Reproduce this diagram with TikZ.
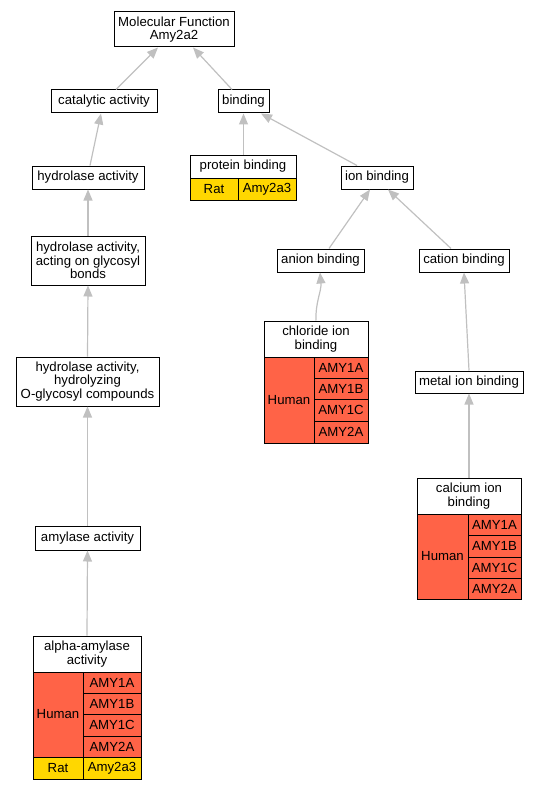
\documentclass[tikz,border=0pt]{standalone}
\usepackage{fontspec}
\setmainfont{Liberation Sans}
\usetikzlibrary{arrows.meta}
\definecolor{edgegray}{RGB}{192,192,192}
\definecolor{humanred}{RGB}{255,99,71}
\definecolor{ratgold}{RGB}{255,215,0}
\tikzset{
  gbox/.style={draw=black, line width=1pt, inner sep=0pt, align=center,
    font=\fontsize{13.2}{13.6}\selectfont},
  edge/.style={draw=edgegray, line width=1.2pt,
    -{Triangle[length=11pt,width=9pt,fill=edgegray,color=edgegray]}},
}
\newcommand\gnode[7][white]{%
  \pgfmathsetmacro\gcx{(#3+#5)/2}%
  \pgfmathsetmacro\gcy{(#4+#6)/2}%
  \pgfmathsetmacro\gww{#5-#3}%
  \pgfmathsetmacro\ghh{#6-#4}%
  \node[gbox, fill=#1, minimum width=\gww pt, minimum height=\ghh pt] (#2) at (\gcx,\gcy) {#7};%
}
\begin{document}
\begin{tikzpicture}[x=1pt,y=-1pt]
\useasboundingbox (0,0) rectangle (539,789);
% plain nodes
\gnode{mf}{114}{12}{234}{47}{Molecular Function\\Amy2a2}
\gnode{cat}{51}{90}{157}{113}{catalytic activity}
\gnode{bind}{218}{90}{269}{113}{binding}
\gnode{hyd}{32}{166}{144}{189}{hydrolase activity}
\gnode{ion}{341}{166}{413}{189}{ion binding}
\gnode{anion}{277}{249}{364}{272}{anion binding}
\gnode{cation}{419}{249}{509}{272}{cation binding}
\gnode{metal}{415}{371}{523}{393}{metal ion binding}
\gnode{acting}{31}{236}{145}{285}{hydrolase activity,\\acting on glycosyl\\bonds}
\gnode{hydro}{16}{357}{159}{406}{hydrolase activity,\\hydrolyzing\\O-glycosyl compounds}
\gnode{amyl}{35}{526}{140}{550}{amylase activity}
% protein binding table
\gnode{pb}{190}{155}{296}{178}{protein binding}
\gnode[ratgold]{pbrat}{190}{178}{238}{200}{Rat}
\gnode[ratgold]{pbamy}{238}{178}{296}{200}{Amy2a3}
% chloride ion binding table
\gnode{chl}{264}{321}{368}{357}{chloride ion\\binding}
\gnode[humanred]{chlhum}{264}{357}{314}{443}{Human}
\gnode[humanred]{chla}{314}{357}{368}{378}{AMY1A}
\gnode[humanred]{chlb}{314}{378}{368}{399}{AMY1B}
\gnode[humanred]{chlc}{314}{399}{368}{421}{AMY1C}
\gnode[humanred]{chld}{314}{421}{368}{443}{AMY2A}
% calcium ion binding table
\gnode{cal}{417}{478}{521}{514}{calcium ion\\binding}
\gnode[humanred]{calhum}{417}{514}{468}{599}{Human}
\gnode[humanred]{cala}{468}{514}{521}{535}{AMY1A}
\gnode[humanred]{calb}{468}{535}{521}{557}{AMY1B}
\gnode[humanred]{calc}{468}{557}{521}{578}{AMY1C}
\gnode[humanred]{cald}{468}{578}{521}{599}{AMY2A}
% alpha-amylase activity table
\gnode{alpha}{33}{636}{141}{672}{alpha-amylase\\activity}
\gnode[humanred]{alhum}{33}{672}{83}{757}{Human}
\gnode[humanred]{ala}{83}{672}{141}{693}{AMY1A}
\gnode[humanred]{alb}{83}{693}{141}{714}{AMY1B}
\gnode[humanred]{alc}{83}{714}{141}{736}{AMY1C}
\gnode[humanred]{ald}{83}{736}{141}{757}{AMY2A}
\gnode[ratgold]{alrat}{33}{757}{83}{779}{Rat}
\gnode[ratgold]{alamy}{83}{757}{141}{779}{Amy2a3}
% edges
\draw[edge] ([xshift=12pt]cat.north) -- ([xshift=-16pt]mf.south);
\draw[edge] ([xshift=-11.5pt]bind.north) -- ([xshift=19pt]mf.south);
\draw[edge] ([xshift=2pt]hyd.north) -- ([xshift=-3pt]cat.south);
\draw[edge] ([xshift=0.5pt]pb.north) -- (bind.south);
\draw[edge] ([xshift=-20pt]ion.north) -- ([xshift=17.5pt]bind.south);
\draw[edge] (acting.north) -- (hyd.south);
\draw[edge] (hydro.north) -- (acting.south);
\draw[edge] (amyl.north) -- (hydro.south);
\draw[edge] (alpha.north) -- (amyl.south);
\draw[edge] ([xshift=8.5pt]anion.north) -- ([xshift=-7pt]ion.south);
\draw[edge] ([xshift=-13pt]cation.north) -- ([xshift=11pt]ion.south);
\draw[edge] (chl.north) to[out=92,in=-85] ([xshift=-0.5pt]anion.south);
\draw[edge] (metal.north) -- (cation.south);
\draw[edge] (cal.north) -- (metal.south);
\end{tikzpicture}
\end{document}
